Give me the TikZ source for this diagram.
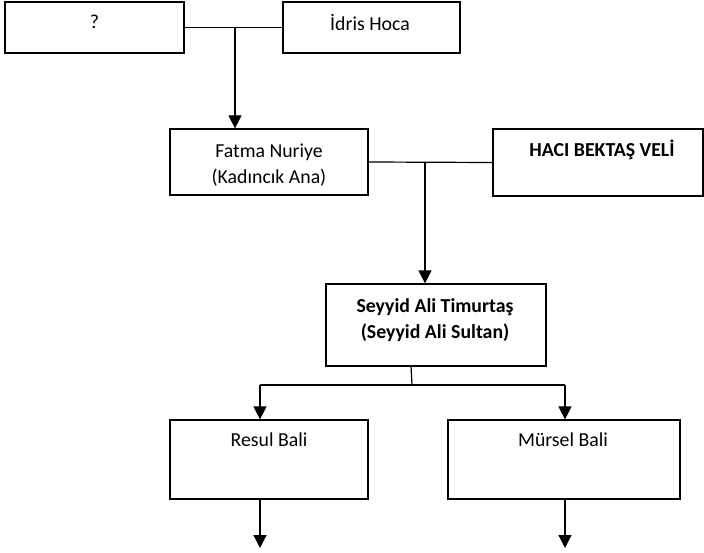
\documentclass[tikz,border=0pt]{standalone}
\usepackage{fontspec}
\setmainfont{Carlito}
\usetikzlibrary{calc,positioning,arrows.meta}

\tikzset{
  box/.style={draw,line width=1.2pt,inner sep=0pt},
  person/.style={font=\fontsize{19.8}{26}\selectfont,align=center,inner sep=0pt},
  boldperson/.style={person,font=\fontsize{19.8}{26}\selectfont\bfseries},
  link/.style={line width=1.2pt},
  arr/.style={line width=1.2pt,-{Triangle[length=13pt,width=13pt]}}
}

\begin{document}
\begin{tikzpicture}[x=1pt,y=-1pt]
	\useasboundingbox (0,0) rectangle (704,553);

	% boxes
	\node[box,minimum width=179pt,minimum height=51pt] (q) at (94.5,27.5) {};
	\node[box,minimum width=177pt,minimum height=51pt] (idris) at (371.5,27.5) {};
	\node[box,minimum width=198pt,minimum height=66pt] (fatma) at (269,162) {};
	\node[box,minimum width=210pt,minimum height=67pt] (haci) at (598,162.5) {};
	\node[box,minimum width=220pt,minimum height=82pt] (seyyid) at (436,325) {};
	\node[box,minimum width=198pt,minimum height=79pt] (resul) at (269,459.5) {};
	\node[box,minimum width=232pt,minimum height=79pt] (mursel) at (564,459.5) {};

	% texts
	\node[person] (q-t) at (94.5,22) {?};
	\node[person] (idris-t) at (370,22) {İdris Hoca};
	\node[person] (fatma-t) at (269,165) {Fatma Nuriye\\(Kadıncık Ana)};
	\node[boldperson] (haci-t) at (602,150) {HACI BEKTAŞ VELİ};
	\node[boldperson] (seyyid-t) at (435,320.5) {Seyyid Ali Timurtaş\\(Seyyid Ali Sultan)};
	\node[person] (resul-t) at (269,440) {Resul Bali};
	\node[person] (mursel-t) at (563,440) {Mürsel Bali};

	% connectors
	\draw[link] (q.east) -- (idris.west);
	\coordinate (j1) at (235,27.5);
	\draw[arr] (j1) -- (j1 |- fatma.north);

	\draw[link] (fatma.east) -- (haci.west);
	\coordinate (j2) at (425,162);
	\draw[arr] (j2) -- (j2 |- seyyid.north);

	\coordinate (s0) at (411,366);
	\coordinate (s1) at (412,385);
	\coordinate (bl) at (260,385);
	\coordinate (br) at (565,385);
	\draw[link] (s0) -- (s1);
	\draw[link] (bl) -- (br);
	\draw[arr] (bl) -- (bl |- resul.north);
	\draw[arr] (br) -- (br |- mursel.north);

	\coordinate (r1) at (260,548);
	\coordinate (m1) at (565,548);
	\draw[arr] (r1 |- resul.south) -- (r1);
	\draw[arr] (m1 |- mursel.south) -- (m1);
\end{tikzpicture}
\end{document}
